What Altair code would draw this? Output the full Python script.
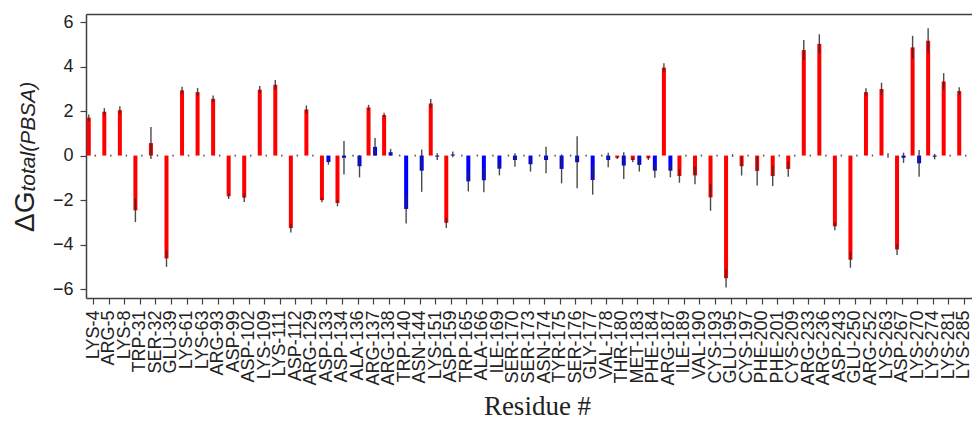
import altair as alt
import pandas as pd

residues = [
    "LYS-4", "ARG-5", "LYS-8", "TRP-31", "SER-32", "GLU-39", "LYS-61", "LYS-63", "ARG-93",
    "ASP-99", "ASP-102", "LYS-109", "LYS-111", "ASP-112", "ARG-129", "ASP-133", "ASP-134",
    "ALA-136", "ARG-137", "ARG-138", "TRP-140", "ASN-144", "LYS-151", "ASP-159", "TRP-165",
    "ALA-166", "ILE-169", "SER-170", "SER-173", "ASN-174", "TYR-175", "SER-176", "GLY-177",
    "VAL-178", "THR-180", "MET-183", "PHE-184", "ARG-187", "ILE-189", "VAL-190", "CYS-193",
    "GLU-195", "CYS-197", "PHE-200", "PHE-201", "CYS-209", "ARG-233", "ARG-236", "ASP-243",
    "GLU-250", "ARG-252", "LYS-263", "ASP-267", "LYS-270", "LYS-274", "LYS-281", "LYS-285",
]

red_values = [
    1.70, 1.97, 2.04, -2.46, 0.56, -4.62, 2.93, 2.85, 2.55,
    -1.83, -1.89, 2.96, 3.18, -3.26, 2.07, -2.00, -2.13,
    0.0, 2.16, 1.82, 0.0, 0.0, 2.34, -3.02, 0.0,
    0.0, 0.0, 0.0, 0.0, 0.0, 0.0, 0.0, 0.0,
    0.0, -0.10, -0.20, -0.12, 3.95, -0.92, -0.89, -1.88,
    -5.51, -0.48, -0.69, -0.92, -0.60, 4.74, 5.02, -3.18,
    -4.68, 2.85, 2.99, -4.22, 4.86, 5.16, 3.33, 2.90,
]
red_errors = [
    0.15, 0.16, 0.18, 0.53, 0.72, 0.38, 0.16, 0.18, 0.15,
    0.12, 0.20, 0.16, 0.22, 0.20, 0.18, 0.10, 0.15,
    0.04, 0.12, 0.10, 0.04, 0.04, 0.20, 0.24, 0.04,
    0.04, 0.04, 0.04, 0.04, 0.04, 0.04, 0.04, 0.04,
    0.04, 0.05, 0.10, 0.08, 0.20, 0.30, 0.40, 0.60,
    0.42, 0.42, 0.65, 0.45, 0.35, 0.45, 0.43, 0.18,
    0.36, 0.17, 0.28, 0.25, 0.52, 0.56, 0.37, 0.17,
]
blue_values = [
    0.0, 0.0, 0.0, 0.0, 0.0, 0.0, 0.0, 0.0, 0.0,
    0.0, 0.0, 0.0, 0.0, 0.0, 0.0, -0.29, -0.10,
    -0.48, 0.39, 0.15, -2.40, -0.68, -0.05, 0.05, -1.16,
    -1.11, -0.59, -0.20, -0.39, -0.20, -0.60, -0.30, -1.10,
    -0.20, -0.45, -0.42, -0.68, -0.68, 0.0, 0.0, 0.0,
    0.0, 0.0, 0.0, 0.0, 0.0, 0.0, 0.0, 0.0,
    0.0, 0.0, 0.0, -0.10, -0.35, -0.05, 0.0, 0.0,
]
blue_errors = [
    0.04, 0.04, 0.04, 0.04, 0.04, 0.04, 0.04, 0.04, 0.04,
    0.04, 0.04, 0.04, 0.04, 0.04, 0.04, 0.12, 0.75,
    0.50, 0.40, 0.15, 0.65, 0.95, 0.15, 0.13, 0.45,
    0.54, 0.30, 0.30, 0.33, 0.60, 0.65, 1.17, 0.66,
    0.33, 0.60, 0.30, 0.32, 0.30, 0.04, 0.04, 0.04,
    0.06, 0.04, 0.04, 0.04, 0.04, 0.04, 0.04, 0.04,
    0.04, 0.04, 0.10, 0.23, 0.60, 0.12, 0.04, 0.04,
]

y_title_main = "ΔG"
y_title_sub = "total(PBSA)"
x_title = "Residue #"

red_df = pd.DataFrame({"residue": residues, "value": red_values, "err": red_errors})
blue_df = pd.DataFrame({"residue": residues, "value": blue_values, "err": blue_errors})

W, H = 886, 284
AXIS_COLOR = "#404040"
LABEL_COLOR = "#222222"

xscale = alt.Scale(paddingInner=0, paddingOuter=0)
yscale = alt.Scale(domain=[-6.4, 6.36], nice=False, zero=False)

x_bottom = alt.X(
    "residue:N", sort=residues, scale=xscale, title=x_title,
    axis=alt.Axis(
        orient="bottom", labelAngle=270, labelFont="Liberation Sans", labelFontSize=18,
        labelColor=LABEL_COLOR, labelPadding=6, tickSize=6, tickColor=AXIS_COLOR,
        tickWidth=1.2, domainColor=AXIS_COLOR, domainWidth=1.5, grid=False,
        titleFont="Liberation Serif", titleFontSize=27, titleFontWeight="normal",
        titleColor=LABEL_COLOR, titleX=451, titleY=116, titleBaseline="alphabetic",
        titleAlign="center", titleAnchor="start",
    ),
)
x_top = alt.X(
    "residue:N", sort=residues, scale=xscale, title=None,
    axis=alt.Axis(orient="top", labels=False, ticks=False, domainColor=AXIS_COLOR,
                  domainWidth=1.5, grid=False),
)
x_none = alt.X("residue:N", sort=residues, scale=xscale, axis=None)

y_axis = alt.Axis(
    values=[-6, -4, -2, 0, 2, 4, 6], labelFont="Liberation Sans", labelFontSize=18,
    labelColor=LABEL_COLOR, labelPadding=7, tickSize=6, tickColor=AXIS_COLOR,
    tickWidth=1.2, domainColor=AXIS_COLOR, domainWidth=1.5, grid=False, title=None,
)

red_bars = alt.Chart(red_df).mark_bar(width=4, xOffset=-5, color="#ff0000").encode(
    x=x_bottom,
    y=alt.Y("value:Q", scale=yscale, axis=y_axis),
    y2=alt.datum(0),
)
blue_bars = alt.Chart(blue_df).mark_bar(width=4, xOffset=1.5, color="#0000ff").encode(
    x=x_top,
    y=alt.Y("value:Q", scale=yscale, axis=None),
    y2=alt.datum(0),
)


def err_layer(df, off):
    return alt.Chart(df).transform_calculate(
        lo="datum.value - datum.err", hi="datum.value + datum.err"
    ).mark_rule(xOffset=off, color="#2a2a2a", strokeWidth=1.4, opacity=0.85).encode(
        x=x_none,
        y=alt.Y("lo:Q", scale=yscale, axis=None),
        y2="hi:Q",
    )


title_main = alt.Chart(pd.DataFrame({"t": [y_title_main]})).mark_text(
    angle=270, align="left", baseline="alphabetic", font="Liberation Sans",
    fontSize=28, color=LABEL_COLOR,
).encode(text="t:N", x=alt.value(-52.5), y=alt.value(218))

title_sub = alt.Chart(pd.DataFrame({"t": [y_title_sub]})).mark_text(
    angle=270, align="left", baseline="alphabetic", font="Liberation Sans",
    fontSize=21, fontStyle="italic", color=LABEL_COLOR,
).encode(text="t:N", x=alt.value(-51.5), y=alt.value(177.5))

chart = alt.layer(
    red_bars, blue_bars, err_layer(red_df, -5), err_layer(blue_df, 1.5), title_main, title_sub
).resolve_axis(x="independent", y="independent").properties(
    width=W, height=H,
    padding={"left": 78, "top": 6, "right": 0, "bottom": 123},
    autosize="none",
).configure_view(stroke=None).configure(background="white")

chart.save("out.html", embed_options={"renderer": "svg", "actions": False})
